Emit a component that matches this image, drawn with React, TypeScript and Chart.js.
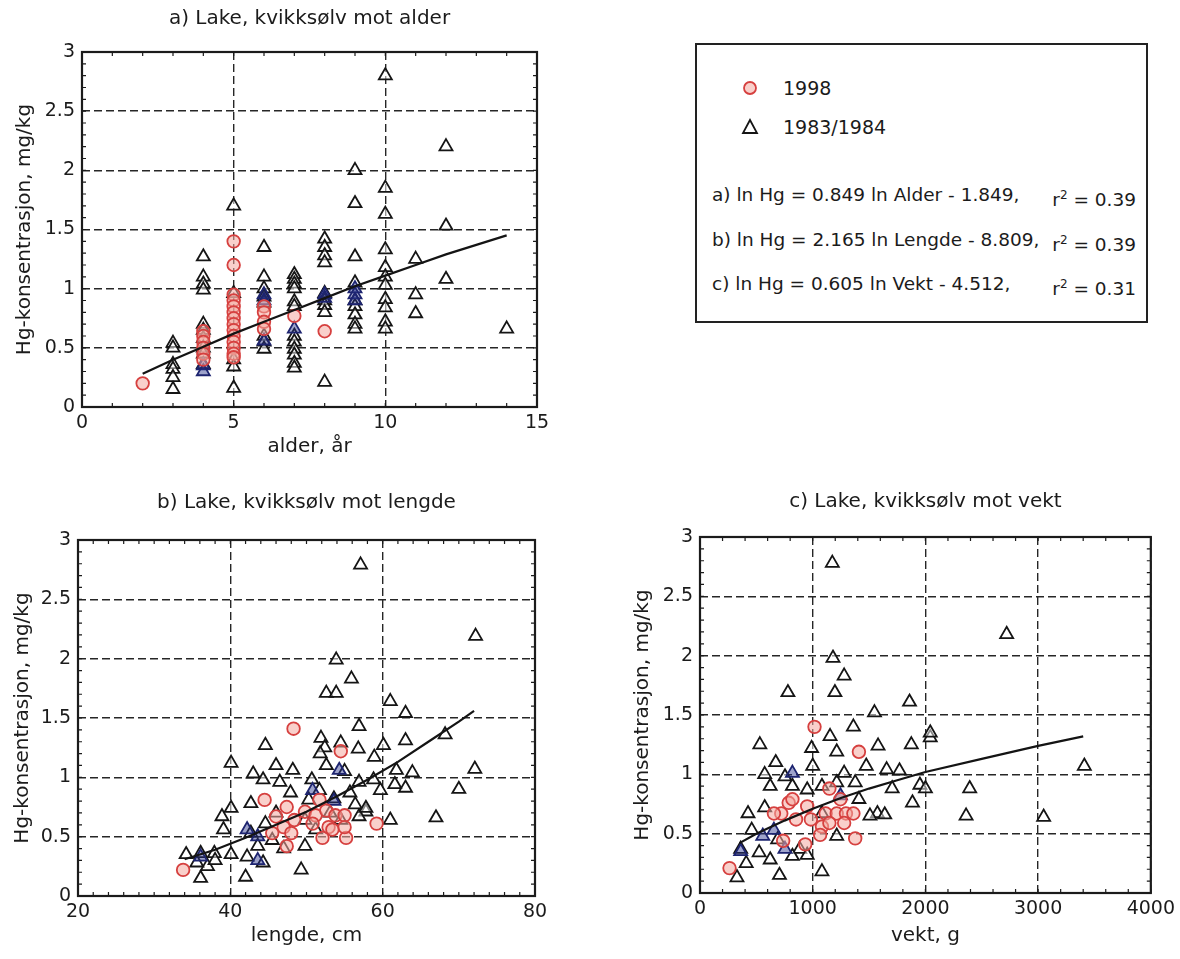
import React, { useEffect, useRef } from "react";
import { Chart, registerables } from "chart.js";

Chart.register(...registerables);

type Pt = [number, number];

// ---- a) mercury vs age ----
const ageTriangles: Pt[] = [
  [3, 0.54], [3, 0.5], [3, 0.36], [3, 0.32], [3, 0.25], [3, 0.15],
  [4, 1.27], [4, 1.1], [4, 1.04], [4, 0.99], [4, 0.7], [4, 0.65], [4, 0.58], [4, 0.5], [4, 0.45], [4, 0.36],
  [5, 1.7], [5, 0.96], [5, 0.4], [5, 0.34], [5, 0.16],
  [6, 1.35], [6, 1.1], [6, 1.0], [6, 0.93], [6, 0.88], [6, 0.6], [6, 0.55], [6, 0.49],
  [7, 1.12], [7, 1.08], [7, 1.04], [7, 1.0], [7, 0.89], [7, 0.85], [7, 0.6], [7, 0.55], [7, 0.49], [7, 0.44], [7, 0.37], [7, 0.33],
  [8, 1.42], [8, 1.35], [8, 1.28], [8, 1.22], [8, 0.96], [8, 0.9], [8, 0.86], [8, 0.8], [8, 0.21],
  [9, 2.0], [9, 1.72], [9, 1.27], [9, 1.05], [9, 0.9], [9, 0.85], [9, 0.78], [9, 0.7], [9, 0.66],
  [10, 2.8], [10, 1.85], [10, 1.63], [10, 1.33], [10, 1.18], [10, 1.1], [10, 1.03], [10, 0.91], [10, 0.84], [10, 0.72], [10, 0.66],
  [11, 1.25], [11, 0.95], [11, 0.79],
  [12, 2.2], [12, 1.53], [12, 1.08],
  [14, 0.66],
];
const ageCircles: Pt[] = [
  [2, 0.2],
  [4, 0.64], [4, 0.6], [4, 0.55], [4, 0.5], [4, 0.45], [4, 0.4],
  [5, 1.4], [5, 1.2], [5, 0.95], [5, 0.9], [5, 0.85], [5, 0.8], [5, 0.75], [5, 0.7], [5, 0.65], [5, 0.6], [5, 0.55], [5, 0.5], [5, 0.45], [5, 0.42],
  [6, 0.85], [6, 0.8], [6, 0.72], [6, 0.66],
  [7, 0.77],
  [8, 0.64],
];
const ageNavy: Pt[] = [
  [4, 0.35], [4, 0.3], [6, 0.95], [6, 0.9], [6, 0.56], [7, 0.66],
  [8, 0.95], [8, 0.92], [9, 1.0], [9, 0.95], [9, 0.9],
];
const ageFit: Pt[] = [
  [2, 0.28], [3, 0.4], [4, 0.51], [5, 0.62], [6, 0.72], [7, 0.82], [8, 0.92],
  [9, 1.02], [10, 1.11], [11, 1.2], [12, 1.29], [13, 1.37], [14, 1.45],
];

// ---- b) mercury vs length ----
const lenTriangles: Pt[] = [
  [57.1, 2.79], [72.2, 2.19], [53.9, 1.99], [55.9, 1.83], [52.6, 1.71], [53.9, 1.71],
  [61.0, 1.64], [63.0, 1.54], [56.9, 1.43], [68.2, 1.36], [51.9, 1.33], [63.0, 1.31],
  [44.6, 1.27], [60.1, 1.27], [52.4, 1.25], [54.5, 1.29], [56.8, 1.24], [51.8, 1.2],
  [58.9, 1.17], [40.1, 1.12], [46.0, 1.1], [52.6, 1.1], [48.2, 1.06], [61.8, 1.06],
  [43.0, 1.03], [55.0, 1.05], [63.9, 1.04], [72.1, 1.07], [44.3, 0.98], [46.5, 0.96],
  [50.7, 0.98], [56.9, 0.96], [58.8, 0.98], [59.7, 0.89], [61.6, 0.94], [63.0, 0.91],
  [70.0, 0.9], [42.7, 0.78], [40.1, 0.74], [38.9, 0.67], [39.1, 0.56], [67.0, 0.66],
  [61.0, 0.64], [57.8, 0.71], [56.4, 0.77], [49.8, 0.64], [49.8, 0.42], [49.3, 0.22],
  [42.0, 0.16], [36.1, 0.15], [42.2, 0.33], [44.3, 0.28], [40.1, 0.35], [37.9, 0.36],
  [36.1, 0.36], [34.2, 0.35], [37.0, 0.25], [38.0, 0.3], [35.6, 0.28], [46.0, 0.7],
  [44.6, 0.61], [45.5, 0.47], [47.0, 0.4], [42.7, 0.53], [43.6, 0.42], [47.9, 0.87],
  [50.3, 0.81], [51.7, 0.89], [53.6, 0.82], [53.1, 0.7], [51.2, 0.56], [54.5, 0.64],
  [56.9, 0.67], [57.8, 0.74], [55.7, 0.87],
];
const lenCircles: Pt[] = [
  [48.3, 1.41], [54.5, 1.22], [44.5, 0.81], [33.8, 0.22], [59.2, 0.61], [55.2, 0.49],
  [52.1, 0.49], [47.4, 0.42], [47.0, 0.58], [46.0, 0.67], [48.4, 0.64], [49.8, 0.71],
  [51.2, 0.68], [52.6, 0.72], [53.8, 0.68], [55.0, 0.68], [55.0, 0.58], [52.9, 0.58],
  [50.8, 0.61], [48.0, 0.53], [53.4, 0.56], [51.7, 0.81], [47.4, 0.75], [45.5, 0.53],
];
const lenNavy: Pt[] = [
  [42.2, 0.56], [43.6, 0.5], [36.1, 0.33], [53.6, 0.8], [54.3, 1.06], [50.8, 0.89], [43.6, 0.3],
];
const lenFit: Pt[] = [
  [34, 0.31], [38, 0.39], [42, 0.49], [46, 0.6], [50, 0.71], [54, 0.84],
  [58, 0.98], [62, 1.13], [66, 1.3], [70, 1.47], [72, 1.56],
];

// ---- c) mercury vs weight ----
const wtTriangles: Pt[] = [
  [1174, 2.78], [2721, 2.18], [1180, 1.98], [1279, 1.83], [1197, 1.69], [780, 1.69],
  [1859, 1.61], [1548, 1.52], [1361, 1.4], [2043, 1.31], [2043, 1.35], [1154, 1.32],
  [531, 1.25], [1875, 1.25], [1580, 1.24], [990, 1.22], [1213, 1.19], [3410, 1.07],
  [672, 1.1], [574, 1.0], [1000, 1.07], [1475, 1.07], [1656, 1.04], [1770, 1.03],
  [2393, 0.88], [1951, 0.91], [2000, 0.88], [1705, 0.88], [1885, 0.76], [1574, 0.67],
  [1639, 0.66], [2361, 0.65], [3049, 0.64], [1082, 0.18], [705, 0.15], [328, 0.13],
  [426, 0.67], [459, 0.53], [574, 0.72], [754, 0.98], [623, 0.9], [820, 0.9],
  [951, 0.87], [1082, 0.9], [1213, 0.93], [1279, 1.01], [1377, 0.93], [1213, 0.48],
  [1082, 0.67], [1410, 0.79], [1508, 0.65], [885, 0.37], [820, 0.31], [623, 0.28],
  [525, 0.34], [361, 0.37], [410, 0.25], [951, 0.32], [689, 0.45],
];
const wtCircles: Pt[] = [
  [1016, 1.4], [1410, 1.19], [1148, 0.88], [262, 0.21], [787, 0.76], [721, 0.67],
  [738, 0.44], [934, 0.41], [984, 0.62], [1082, 0.56], [1115, 0.67], [1213, 0.67],
  [1295, 0.67], [1361, 0.67], [1377, 0.46], [1279, 0.59], [1148, 0.59], [1066, 0.49],
  [852, 0.62], [820, 0.79], [656, 0.67], [951, 0.73], [1246, 0.79],
];
const wtNavy: Pt[] = [
  [656, 0.53], [557, 0.48], [754, 0.37], [1246, 0.82], [361, 0.35], [820, 1.01],
];
const wtFit: Pt[] = [
  [350, 0.42], [500, 0.5], [750, 0.61], [1000, 0.71], [1250, 0.8], [1500, 0.88],
  [1750, 0.95], [2000, 1.02], [2500, 1.13], [3000, 1.24], [3400, 1.32],
];

// ---- shared text ----
const yAxisTitle = "Hg-konsentrasjon, mg/kg";
const seriesNames = ["1998", "1983/1984"];
const equations: [string, string][] = [
  ["a) ln Hg = 0.849 ln Alder - 1.849,", "0.39"],
  ["b) ln Hg = 2.165 ln Lengde - 8.809,", "0.39"],
  ["c) ln Hg = 0.605 ln Vekt - 4.512,", "0.31"],
];

const FONT = "'DejaVu Sans', 'Liberation Sans', Arial, sans-serif";
const INK = "#1b1b1b";

type PanelCfg = {
  title: string;
  xTitle: string;
  xMin: number;
  xMax: number;
  xStep: number;
  xMinor: number;
  triangles: Pt[];
  circles: Pt[];
  navy: Pt[];
  fit: Pt[];
  left: number;
  top: number;
  w: number;
  h: number;
  yAxisW: number;
  xAxisH: number;
  padRight: number;
  titleTop: number;
  titleBottom: number;
  yTitlePad: number;
  xTitlePad: number;
};

// solid frame round the plot area plus small inward minor ticks on all four sides
const framePlugin = {
  id: "frameAndMinorTicks",
  afterDraw(chart: any, _args: any, opts: any) {
    const { ctx, chartArea: a, scales } = chart;
    const xs = scales.x;
    const ys = scales.y;
    ctx.save();
    ctx.strokeStyle = INK;
    ctx.lineWidth = 1.2;
    const len = 4;
    ctx.beginPath();
    for (let v = xs.min; v <= xs.max + 1e-9; v += opts.xMinor) {
      const px = xs.getPixelForValue(v);
      ctx.moveTo(px, a.bottom);
      ctx.lineTo(px, a.bottom - len);
      ctx.moveTo(px, a.top);
      ctx.lineTo(px, a.top + len);
    }
    for (let v = ys.min; v <= ys.max + 1e-9; v += 0.1) {
      const py = ys.getPixelForValue(v);
      ctx.moveTo(a.left, py);
      ctx.lineTo(a.left + len, py);
      ctx.moveTo(a.right, py);
      ctx.lineTo(a.right - len, py);
    }
    ctx.stroke();
    ctx.lineWidth = 2.2;
    ctx.strokeRect(a.left, a.top, a.right - a.left, a.bottom - a.top);
    ctx.restore();
  },
};

const toXY = (pts: Pt[]) => pts.map(([x, y]) => ({ x, y }));

function Panel({ cfg }: { cfg: PanelCfg }) {
  const ref = useRef<HTMLCanvasElement>(null);
  useEffect(() => {
    const tickFont = { family: FONT, size: 19 };
    const titleFont = { family: FONT, size: 20 };
    const chart = new Chart(ref.current as HTMLCanvasElement, {
      type: "scatter",
      data: {
        datasets: [
          {
            label: "fit",
            data: toXY(cfg.fit),
            showLine: true,
            borderColor: "#141414",
            borderWidth: 2.2,
            pointRadius: 0,
            tension: 0,
            order: 0,
          } as any,
          {
            label: seriesNames[0],
            data: toXY(cfg.circles),
            pointStyle: "circle",
            pointRadius: 6.3,
            borderWidth: 1.8,
            borderColor: "#d6403f",
            backgroundColor: "rgba(244,170,160,0.55)",
            order: 1,
          },
          {
            label: "navy",
            data: toXY(cfg.navy),
            pointStyle: "triangle",
            pointRadius: 7.5,
            borderWidth: 1.8,
            borderColor: "#1d2470",
            backgroundColor: "rgba(40,50,140,0.45)",
            order: 2,
          },
          {
            label: seriesNames[1],
            data: toXY(cfg.triangles),
            pointStyle: "triangle",
            pointRadius: 7.5,
            borderWidth: 1.8,
            borderColor: "#151515",
            backgroundColor: "rgba(255,255,255,0.5)",
            order: 3,
          },
        ],
      },
      options: {
        responsive: false,
        animation: false,
        layout: { padding: { left: 0, right: cfg.padRight, top: 0, bottom: 0 } },
        plugins: {
          legend: { display: false },
          tooltip: { enabled: false },
          title: {
            display: true,
            text: cfg.title,
            fullSize: false,
            color: INK,
            font: { ...titleFont, weight: "normal" },
            padding: { top: cfg.titleTop, bottom: cfg.titleBottom },
          },
          frameAndMinorTicks: { xMinor: cfg.xMinor },
        } as any,
        scales: {
          x: {
            type: "linear",
            min: cfg.xMin,
            max: cfg.xMax,
            ticks: {
              stepSize: cfg.xStep,
              font: tickFont,
              color: INK,
              padding: 5,
              maxRotation: 0,
              autoSkip: false,
              callback: (v: any) => String(v),
            },
            grid: { color: "#262626", lineWidth: 1.4, drawTicks: false },
            border: { display: false, dash: [8, 4] },
            title: {
              display: true,
              text: cfg.xTitle,
              color: INK,
              font: titleFont,
              padding: { top: 0, bottom: cfg.xTitlePad },
            },
            afterFit: (s: any) => {
              s.height = cfg.xAxisH;
            },
          },
          y: {
            type: "linear",
            min: 0,
            max: 3,
            ticks: {
              stepSize: 0.5,
              font: tickFont,
              color: INK,
              padding: 7,
              callback: (v: any) => String(v),
            },
            grid: { color: "#262626", lineWidth: 1.4, drawTicks: false },
            border: { display: false, dash: [8, 4] },
            title: {
              display: true,
              text: yAxisTitle,
              color: INK,
              font: titleFont,
              padding: { top: cfg.yTitlePad, bottom: 0 },
            },
            afterFit: (s: any) => {
              s.width = cfg.yAxisW;
            },
          },
        },
      } as any,
      plugins: [framePlugin],
    });
    return () => chart.destroy();
  }, [cfg]);
  return (
    <canvas
      ref={ref}
      width={cfg.w}
      height={cfg.h}
      style={{ position: "absolute", left: cfg.left, top: cfg.top, width: cfg.w, height: cfg.h }}
    />
  );
}

const panelA: PanelCfg = {
  title: "a) Lake, kvikksølv mot alder",
  xTitle: "alder, år",
  xMin: 0, xMax: 15, xStep: 5, xMinor: 1,
  triangles: ageTriangles, circles: ageCircles, navy: ageNavy, fit: ageFit,
  left: 0, top: 0, w: 575, h: 470,
  yAxisW: 82, xAxisH: 63, padRight: 38,
  titleTop: 7, titleBottom: 21, yTitlePad: 13, xTitlePad: 11,
};
const panelB: PanelCfg = {
  title: "b) Lake, kvikksølv mot lengde",
  xTitle: "lengde, cm",
  xMin: 20, xMax: 80, xStep: 20, xMinor: 2,
  triangles: lenTriangles, circles: lenCircles, navy: lenNavy, fit: lenFit,
  left: 0, top: 478, w: 575, h: 481,
  yAxisW: 78, xAxisH: 63, padRight: 40,
  titleTop: 13, titleBottom: 25, yTitlePad: 11, xTitlePad: 11,
};
const panelC: PanelCfg = {
  title: "c) Lake, kvikksølv mot vekt",
  xTitle: "vekt, g",
  xMin: 0, xMax: 4000, xStep: 1000, xMinor: 200,
  triangles: wtTriangles, circles: wtCircles, navy: wtNavy, fit: wtFit,
  left: 610, top: 478, w: 570, h: 481,
  yAxisW: 90, xAxisH: 66, padRight: 29,
  titleTop: 12, titleBottom: 23, yTitlePad: 21, xTitlePad: 11,
};

function Legend() {
  const box: React.CSSProperties = {
    position: "absolute",
    left: 695,
    top: 43,
    width: 453,
    height: 280,
    border: "2px solid #222",
    boxSizing: "border-box",
    background: "#fff",
    fontFamily: FONT,
    color: INK,
  };
  const row = (top: number): React.CSSProperties => ({
    position: "absolute",
    top,
    left: 0,
    right: 0,
    height: 24,
    lineHeight: "24px",
    whiteSpace: "nowrap",
  });
  const eqTops = [138, 183, 227];
  return (
    <div style={box}>
      <div style={{ ...row(31), fontSize: 19 }}>
        <svg width="18" height="18" style={{ position: "absolute", left: 44, top: 3 }}>
          <circle cx="9" cy="9" r="6" fill="rgba(244,170,160,0.55)" stroke="#d6403f" strokeWidth="1.8" />
        </svg>
        <span style={{ position: "absolute", left: 86 }}>{seriesNames[0]}</span>
      </div>
      <div style={{ ...row(70), fontSize: 19 }}>
        <svg width="18" height="18" style={{ position: "absolute", left: 44, top: 3 }}>
          <polygon points="9,2 16,15 2,15" fill="#fff" stroke="#151515" strokeWidth="1.8" />
        </svg>
        <span style={{ position: "absolute", left: 86 }}>{seriesNames[1]}</span>
      </div>
      {equations.map(([lhs, r2], i) => (
        <div key={i} style={{ ...row(eqTops[i]), fontSize: 18.5 }}>
          <span style={{ position: "absolute", left: 15 }}>{lhs}</span>
          <span style={{ position: "absolute", right: 10 }}>
            r<sup style={{ fontSize: 12 }}>2</sup> = {r2}
          </span>
        </div>
      ))}
    </div>
  );
}

export default function App() {
  return (
    <div style={{ position: "absolute", left: 0, top: 0, width: 1180, height: 959, background: "#fff" }}>
      <Panel cfg={panelA} />
      <Panel cfg={panelB} />
      <Panel cfg={panelC} />
      <Legend />
    </div>
  );
}
